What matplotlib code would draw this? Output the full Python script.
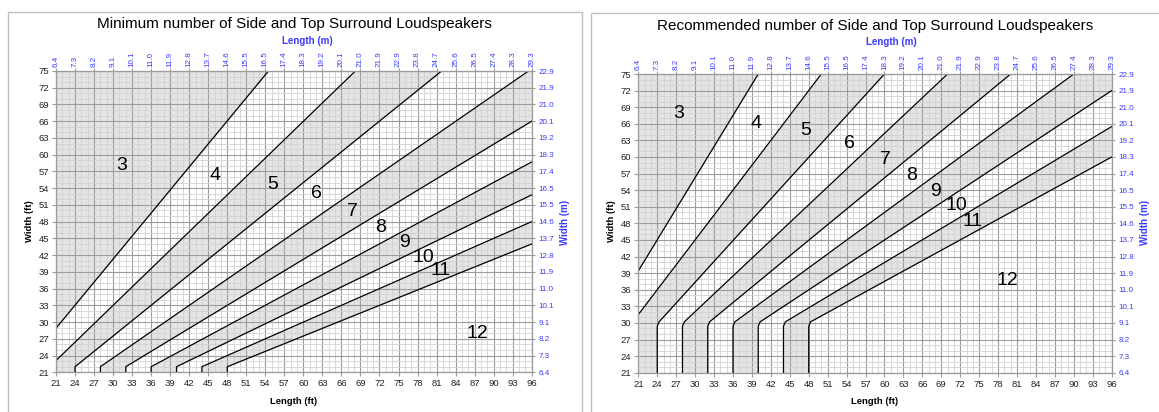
import numpy as np
import matplotlib
matplotlib.use("Agg")
import matplotlib.pyplot as plt
from matplotlib.patches import Rectangle

plt.rcParams['font.family'] = ['Liberation Sans', 'DejaVu Sans']

# axis ticks (ft) and the metre labels shown on the top / right axes
length_ticks = list(range(21, 97, 3))
width_ticks = list(range(21, 76, 3))
length_m_labels = ["6.4", "7.3", "8.2", "9.1", "10.1", "11.0", "11.9", "12.8", "13.7",
                   "14.6", "15.5", "16.5", "17.4", "18.3", "19.2", "20.1", "21.0", "21.9",
                   "22.9", "23.8", "24.7", "25.6", "26.5", "27.4", "28.3", "29.3"]
width_m_labels = ["6.4", "7.3", "8.2", "9.1", "10.1", "11.0", "11.9", "12.8", "13.7",
                  "14.6", "15.5", "16.5", "17.4", "18.3", "19.2", "20.1", "21.0", "21.9", "22.9"]

region_names = ["3", "4", "5", "6", "7", "8", "9", "10", "11", "12"]

# minimum chart: boundary lines between n and n+1 speakers (length ft, width ft)
min_bound_len = [[21, 54.5], [21, 68.2], [24, 24, 81.8], [28, 28, 95.5], [32, 32, 96],
                 [36, 36, 96], [40, 40, 96], [44, 44, 96], [48, 48, 96]]
min_bound_wid = [[28.9, 75], [23.1, 75], [21, 22, 75], [21, 22, 75], [21, 22, 66],
                 [21, 22, 58.7], [21, 22, 52.8], [21, 22, 48], [21, 22, 44]]
min_label_len = [31.4, 46.1, 55.1, 62.1, 67.7, 72.1, 75.9, 78.9, 81.7, 87.4]
min_label_wid = [58.0, 56.2, 54.7, 53.0, 49.8, 47.0, 44.2, 41.5, 39.2, 27.9]

# recommended chart (corner slightly rounded like the original)
rec_bound_len = [[21, 40], [21, 50], [24, 24, 24.3, 60], [28, 28, 28.3, 70], [32, 32, 32.3, 80],
                 [36, 36, 36.3, 90], [40, 40, 40.3, 96], [44, 44, 44.3, 96], [48, 48, 48.3, 96]]
rec_bound_wid = [[39.4, 75], [31.5, 75], [21, 29.4, 30.2, 75], [21, 29.4, 30.2, 75],
                 [21, 29.4, 30.2, 75], [21, 29.4, 30.2, 75], [21, 29.4, 30.2, 72],
                 [21, 29.4, 30.2, 65.5], [21, 29.4, 30.2, 60]]
rec_label_len = [27.4, 39.6, 47.5, 54.5, 60.2, 64.3, 68.1, 71.4, 74.0, 79.5]
rec_label_wid = [67.8, 66.1, 64.7, 62.5, 59.6, 56.7, 53.8, 51.3, 48.4, 37.6]

blue = '#3a3aff'
W, H = 1159, 412


def draw_chart(rect, title, bl, bw, lab_l, lab_w, title_xy, lm_xy, wm_x, wft_x):
    ax = fig.add_axes(rect)
    ax.set_xlim(21, 96)
    ax.set_ylim(21, 75)

    # shaded bands: boundaries as length as function of width
    wgrid = np.unique(np.concatenate([np.linspace(21, 75, 1500)] + [np.array(w, float) for w in bw]))
    edges = [np.full_like(wgrid, 21.0)]
    for l, w in zip(bl, bw):
        edges.append(np.interp(wgrid, w, l, left=21, right=96))
    edges.append(np.full_like(wgrid, 96.0))
    for i in range(len(edges) - 1):
        if i % 2 == 0:
            ax.fill_betweenx(wgrid, edges[i], edges[i + 1], color='#e4e4e4', lw=0, zorder=0.2)
    for l, w in zip(bl, bw):
        ax.plot(l, w, color='black', lw=0.9, zorder=3)

    for name, x, y in zip(region_names, lab_l, lab_w):
        ax.text(x, y, name, fontsize=14, ha='center', va='center', zorder=4)

    ax.set_xticks(length_ticks)
    ax.set_yticks(width_ticks)
    ax.set_xticks(range(21, 97), minor=True)
    ax.set_yticks(range(21, 76), minor=True)
    ax.grid(which='minor', color='#d2d2d2', lw=0.6)
    ax.grid(which='major', color='#9c9c9c', lw=0.8)
    ax.tick_params(which='major', labelsize=6.8, length=3, color='#9c9c9c', labelcolor='#222222', pad=2)
    ax.tick_params(which='minor', length=0)
    for s in ax.spines.values():
        s.set_color('#9c9c9c')

    top = ax.twiny()
    top.set_xlim(21, 96)
    top.set_xticks(length_ticks)
    top.set_xticklabels(length_m_labels, rotation=90, color=blue, fontsize=5.8)
    top.tick_params(length=2, color='#9c9c9c', pad=1)
    right = ax.twinx()
    right.set_ylim(21, 75)
    right.set_yticks(width_ticks)
    right.set_yticklabels(width_m_labels, color=blue, fontsize=5.8)
    right.tick_params(length=2, color='#9c9c9c', pad=3)
    for a in (top, right):
        for s in a.spines.values():
            s.set_color('#9c9c9c')

    fig.text(title_xy[0] / W, 1 - title_xy[1] / H, title, fontsize=11, ha='center', va='center')
    fig.text(lm_xy[0] / W, 1 - lm_xy[1] / H, "Length (m)", fontsize=7, fontweight='bold',
             color=blue, ha='center', va='center')
    fig.text(title_xy[0] / W, 1 - 401 / H, "Length (ft)", fontsize=6.8, fontweight='bold',
             ha='center', va='center')
    fig.text(wft_x / W, 1 - 221 / H, "Width (ft)", fontsize=6.8, fontweight='bold',
             rotation=90, ha='center', va='center')
    fig.text(wm_x / W, 1 - 222 / H, "Width (m)", fontsize=7, fontweight='bold', color=blue,
             rotation=90, ha='center', va='center')
    return ax


fig = plt.figure(figsize=(11.59, 4.12), dpi=100)

# chart frames
fig.patches.append(Rectangle((8 / W, -0.1), 574 / W, 1.1 - 12 / H, transform=fig.transFigure,
                             fill=False, edgecolor='#c0c0c0', lw=1))
fig.patches.append(Rectangle((591 / W, -0.1), 600 / W, 1.1 - 13 / H, transform=fig.transFigure,
                             fill=False, edgecolor='#c0c0c0', lw=1))

draw_chart([56 / W, 1 - 372.3 / H, 475.7 / W, 301.3 / H],
           "Minimum number of Side and Top Surround Loudspeakers",
           min_bound_len, min_bound_wid, min_label_len, min_label_wid,
           (294, 24), (307, 41), 565, 29)
draw_chart([638.3 / W, 1 - 372.7 / H, 473.4 / W, 298.7 / H],
           "Recommended number of Side and Top Surround Loudspeakers",
           rec_bound_len, rec_bound_wid, rec_label_len, rec_label_wid,
           (875, 26), (891, 42), 1145, 612)

plt.savefig("out.png", dpi=100)
